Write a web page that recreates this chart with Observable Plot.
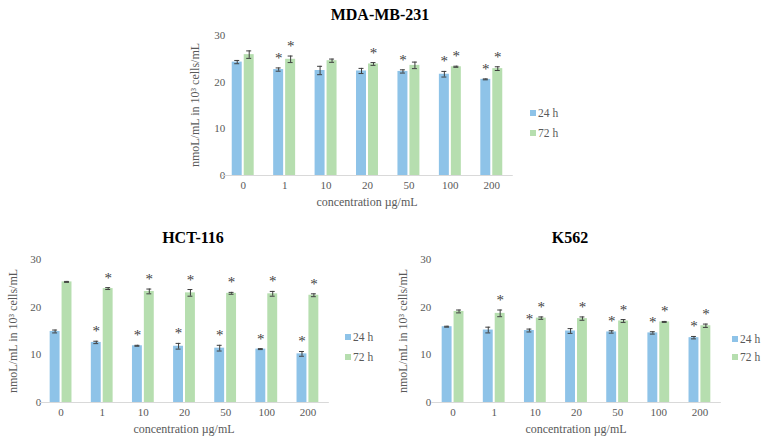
<!DOCTYPE html>
<html>
<head>
<meta charset="utf-8">
<script src="https://cdn.jsdelivr.net/npm/d3@7"></script>
<script src="https://cdn.jsdelivr.net/npm/@observablehq/plot@0.6"></script>
<style>
  html, body { margin: 0; padding: 0; background: #fff; }
  #root { position: relative; width: 765px; height: 441px; overflow: hidden; font-family: "Liberation Serif", "Times New Roman", Times, "DejaVu Serif", serif; }
  .panel { position: absolute; }
  .title { position: absolute; font-weight: bold; font-size: 16px; line-height: 16px; color: #000; transform: translateX(-50%); white-space: nowrap; }
  .axt { position: absolute; font-size: 12px; line-height: 12px; color: #595959; white-space: nowrap; transform: translate(-50%, -50%); }
  .axt.rot { transform: translate(-50%, -50%) rotate(-90deg); }
  .leg { position: absolute; font-size: 11.5px; line-height: 12px; color: #595959; white-space: nowrap; }
  .leg span.sw { display: inline-block; width: 6px; height: 6px; margin-right: 2px; vertical-align: 1px; }
</style>
</head>
<body>
<div id="root"></div>
<script>
// ---- data ----
const concentrations = ["0", "1", "10", "20", "50", "100", "200"];
const seriesNames = ["24 h", "72 h"];
const seriesColors = ["#8EC3E8", "#B6DEAF"];
const yTicks = [0, 10, 20, 30];
const yTitle = "nmoL/mL in 10³ cells/mL";
const xTitle = "concentration µg/mL";

// MDA-MB-231
const mdaMean24 = [24.3, 22.7, 22.5, 22.4, 22.3, 21.7, 20.6];
const mdaErr24  = [0.35, 0.35, 0.9, 0.55, 0.35, 0.6, 0.1];
const mdaMean72 = [25.9, 24.9, 24.6, 23.9, 23.6, 23.3, 22.9];
const mdaErr72  = [0.8, 0.7, 0.35, 0.3, 0.7, 0.12, 0.4];
const mdaSig24  = [false, true, false, false, true, true, true];
const mdaSig72  = [false, true, false, true, false, true, true];

// HCT-116
const hctMean24 = [14.9, 12.6, 11.9, 11.8, 11.4, 11.2, 10.2];
const hctErr24  = [0.3, 0.25, 0.1, 0.6, 0.6, 0.1, 0.5];
const hctMean72 = [25.3, 23.9, 23.3, 23.0, 22.9, 22.8, 22.5];
const hctErr72  = [0.1, 0.2, 0.5, 0.7, 0.2, 0.5, 0.3];
const hctSig24  = [false, true, true, true, true, true, true];
const hctSig72  = [false, true, true, true, true, true, true];

// K562
const kMean24 = [15.9, 15.2, 15.1, 15.0, 14.8, 14.6, 13.6];
const kErr24  = [0.1, 0.6, 0.3, 0.5, 0.25, 0.25, 0.25];
const kMean72 = [19.1, 18.7, 17.7, 17.6, 17.1, 16.9, 16.1];
const kErr72  = [0.3, 0.7, 0.25, 0.35, 0.3, 0.1, 0.35];
const kSig24  = [false, false, true, false, true, true, true];
const kSig72  = [false, true, true, true, true, true, true];

function rowsOf(m24, e24, s24, m72, e72, s72) {
  const rows = [];
  concentrations.forEach((c, i) => {
    rows.push({conc: c, series: seriesNames[0], mean: m24[i], err: e24[i], sig: s24[i]});
    rows.push({conc: c, series: seriesNames[1], mean: m72[i], err: e72[i], sig: s72[i]});
  });
  return rows;
}

const root = document.getElementById("root");
const FONT = '"Liberation Serif", "Times New Roman", Times, "DejaVu Serif", serif';

function addDiv(cls, text, left, top) {
  const d = document.createElement("div");
  d.className = cls;
  d.textContent = text;
  d.style.left = left + "px";
  d.style.top = top + "px";
  root.appendChild(d);
  return d;
}

function panel(cfg) {
  const rows = cfg.rows;
  const chart = Plot.plot({
    width: cfg.width,
    height: cfg.height,
    marginLeft: cfg.ml, marginRight: cfg.mr, marginTop: cfg.mt, marginBottom: cfg.mb,
    style: {fontFamily: FONT, fontSize: "11px", color: "#595959", background: "transparent", overflow: "visible"},
    fx: {domain: concentrations, paddingInner: 0.47, paddingOuter: 0.235, round: false},
    x: {domain: seriesNames, paddingInner: 0.167, paddingOuter: 0, round: false, axis: null},
    y: {domain: [0, 30]},
    color: {domain: seriesNames, range: seriesColors},
    marks: [
      Plot.axisY({ticks: yTicks, tickSize: 0, tickPadding: cfg.ytp, label: null}),
      Plot.axisFx({anchor: "bottom", tickSize: 0, tickPadding: 6, label: null}),
      Plot.ruleY([0], {stroke: "#d9d9d9", insetLeft: -10.5, insetRight: -10.5}),
      Plot.barY(rows, {fx: "conc", x: "series", y: "mean", fill: "series"}),
      Plot.ruleX(rows, {fx: "conc", x: "series", y1: d => d.mean - d.err, y2: d => d.mean + d.err, stroke: "#3f3f3f", strokeWidth: 1}),
      Plot.tickY(rows, {fx: "conc", x: "series", y: d => d.mean - d.err, stroke: "#3f3f3f", strokeWidth: 1, inset: 2.5}),
      Plot.tickY(rows, {fx: "conc", x: "series", y: d => d.mean + d.err, stroke: "#3f3f3f", strokeWidth: 1, inset: 2.5}),
      Plot.text(rows.filter(d => d.sig), {fx: "conc", x: "series", y: d => d.mean + d.err, text: () => "*", lineAnchor: "bottom", dy: -5, fontSize: 15, fill: "#3f3f3f"})
    ]
  });
  const wrap = document.createElement("div");
  wrap.className = "panel";
  wrap.style.left = cfg.left + "px";
  wrap.style.top = cfg.top + "px";
  wrap.appendChild(chart);
  root.appendChild(wrap);

  addDiv("title", cfg.title, cfg.titleX, cfg.titleY - 8);

  // axis titles centred on the plot frame
  const frameL = cfg.left + cfg.ml, frameR = cfg.left + cfg.width - cfg.mr;
  const frameT = cfg.top + cfg.mt, frameB = cfg.top + cfg.height - cfg.mb;
  addDiv("axt", xTitle, (frameL + frameR) / 2, frameB + cfg.xtOff);
  addDiv("axt rot", yTitle, frameL - cfg.ytOff, (frameT + frameB) / 2);

  seriesNames.forEach((s, i) => {
    const l = document.createElement("div");
    l.className = "leg";
    l.style.left = cfg.legX + "px";
    l.style.top = (cfg.legY[i] - 6) + "px";
    const sw = document.createElement("span");
    sw.className = "sw";
    sw.style.background = seriesColors[i];
    l.appendChild(sw);
    l.appendChild(document.createTextNode(s));
    root.appendChild(l);
  });
}

panel({
  title: "MDA-MB-231", titleX: 380, titleY: 15,
  rows: rowsOf(mdaMean24, mdaErr24, mdaSig24, mdaMean72, mdaErr72, mdaSig72),
  left: 180, top: 25, width: 340, height: 190, ml: 42, mr: 8, mt: 10, mb: 40,
  ytp: 7, xtOff: 27, ytOff: 27,
  legX: 530, legY: [113, 133]
});

panel({
  title: "HCT-116", titleX: 193, titleY: 238,
  rows: rowsOf(hctMean24, hctErr24, hctSig24, hctMean72, hctErr72, hctSig72),
  left: 0, top: 245, width: 335, height: 196, ml: 40, mr: 7, mt: 14, mb: 39,
  ytp: 9, xtOff: 27, ytOff: 27,
  legX: 345, legY: [337, 357]
});

panel({
  title: "K562", titleX: 570, titleY: 238,
  rows: rowsOf(kMean24, kErr24, kSig24, kMean72, kErr72, kSig72),
  left: 392, top: 245, width: 333, height: 196, ml: 40, mr: 5, mt: 14, mb: 39,
  ytp: 11, xtOff: 27, ytOff: 29,
  legX: 732, legY: [339, 357]
});
</script>
</body>
</html>
